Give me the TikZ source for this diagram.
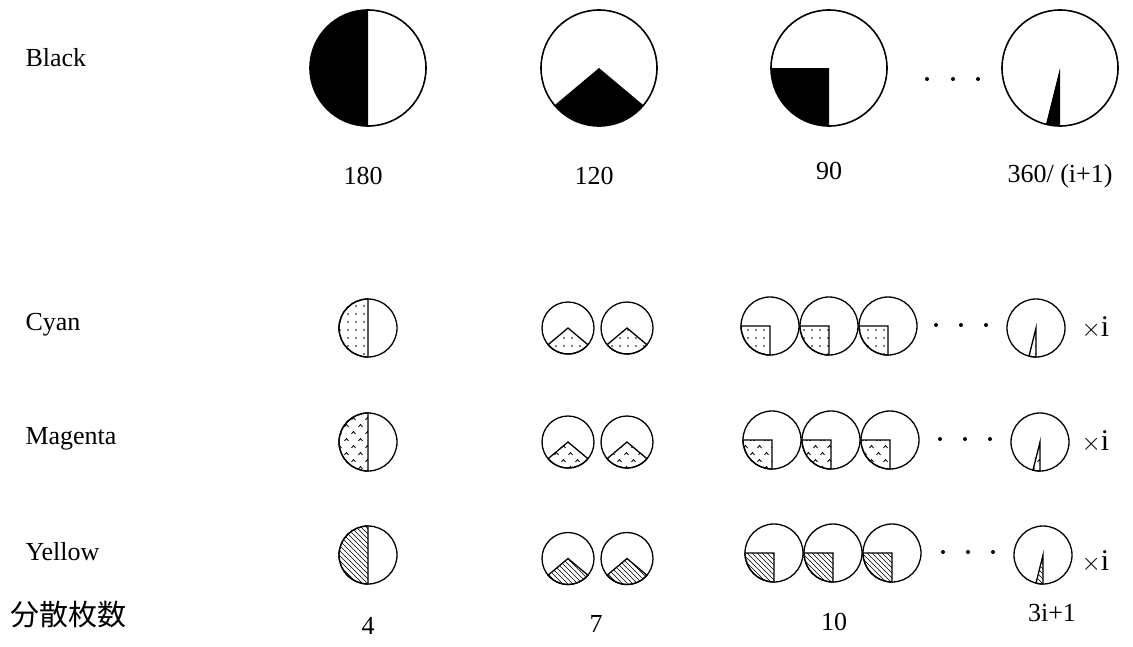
\documentclass[tikz,border=0pt]{standalone}
\usepackage{fontspec}
\setmainfont{Liberation Serif}
\newfontfamily\jpfont{Noto Sans CJK JP}
\usetikzlibrary{patterns}

\pgfdeclarepatternformonly{cyandots}{\pgfqpoint{-1pt}{-1pt}}{\pgfqpoint{9pt}{9pt}}{\pgfqpoint{8pt}{8pt}}{%
  \pgfpathcircle{\pgfqpoint{4pt}{4pt}}{0.9pt}\pgfusepath{fill}}
\pgfdeclarepatternformonly{magentacarets}{\pgfqpoint{-1pt}{-1pt}}{\pgfqpoint{15pt}{15pt}}{\pgfqpoint{14pt}{14pt}}{%
  \pgfsetlinewidth{0.8pt}%
  \pgfpathmoveto{\pgfqpoint{1.5pt}{2pt}}\pgfpathlineto{\pgfqpoint{3.5pt}{4.5pt}}\pgfpathlineto{\pgfqpoint{5.5pt}{2pt}}%
  \pgfpathmoveto{\pgfqpoint{8.5pt}{9pt}}\pgfpathlineto{\pgfqpoint{10.5pt}{11.5pt}}\pgfpathlineto{\pgfqpoint{12.5pt}{9pt}}%
  \pgfusepath{stroke}}
\pgfdeclarepatternformonly{yellowhatch}{\pgfqpoint{-1pt}{-1pt}}{\pgfqpoint{6pt}{6pt}}{\pgfqpoint{5pt}{5pt}}{%
  \pgfsetlinewidth{0.6pt}%
  \pgfpathmoveto{\pgfqpoint{-0.1pt}{5.1pt}}\pgfpathlineto{\pgfqpoint{5.1pt}{-0.1pt}}\pgfusepath{stroke}}

\begin{document}
\begin{tikzpicture}[x=1pt,y=-1pt,
    every node/.style={font=\fontsize{26}{31}\selectfont},
    bigpie/.style={line width=1.6pt},
    smallpie/.style={line width=1.3pt}]
    \useasboundingbox (0,0) rectangle (1133,646);
    % black row
    \coordinate (b1) at (368,68);
    \coordinate (b2) at (599,68);
    \coordinate (b3) at (829,68);
    \coordinate (b4) at (1060,68);
    \fill (b1) -- ++(90:58) arc[start angle=90,end angle=270,radius=58] -- cycle;
    \fill (b2) -- ++(40:58) arc[start angle=40,end angle=140,radius=58] -- cycle;
    \fill (b3) -- ++(90:58) arc[start angle=90,end angle=180,radius=58] -- cycle;
    \fill (b4) -- ++(90:58) arc[start angle=90,end angle=104,radius=58] -- cycle;
    \foreach \c in {b1,b2,b3,b4}
      \draw[bigpie] (\c) circle (58);
    \foreach \x in {927,953,978}
      \fill (\x,79) circle (2);
    \node[anchor=west] (blacklab) at (22,58) {Black};
    \node (deg1) at (363,176) {180};
    \node (deg2) at (594,176) {120};
    \node (deg3) at (829,171) {90};
    \node (deg4) at (1060,176) {360/ (i+1)};
    % colour rows
    \foreach \y/\pat/\lab/\tx/\lx/\ty in {328/cyandots/Cyan/770/1036/0,442/magentacarets/Magenta/772/1040/0,555/yellowhatch/Yellow/774/1043/7}{
      \node[anchor=west] (lab-\lab) at (22,\y-3) {\lab};
      \draw[smallpie,pattern=\pat] (368,\y) -- ++(90:29) arc[start angle=90,end angle=270,radius=29] -- cycle;
      \draw[smallpie] (368,\y) circle (29);
      \foreach \x in {568,627}{
        \draw[smallpie,pattern=\pat] (\x,\y+\ty/2) -- ++(40:26) arc[start angle=40,end angle=140,radius=26] -- cycle;
        \draw[smallpie] (\x,\y+\ty/2) circle (26);
      }
      \foreach \k in {0,1,2}{
        \draw[smallpie,pattern=\pat] (\tx+59*\k,\y-2) -- ++(90:29) arc[start angle=90,end angle=180,radius=29] -- cycle;
        \draw[smallpie] (\tx+59*\k,\y-2) circle (29);
      }
      \foreach \k in {0,1,2}
        \fill (\lx-100+25*\k,\y-3) circle (2);
      \draw[smallpie,pattern=\pat] (\lx,\y) -- ++(90:29) arc[start angle=90,end angle=104,radius=29] -- cycle;
      \draw[smallpie] (\lx,\y) circle (29);
      \node[anchor=west,font=\fontsize{30}{34}\selectfont] (times-\lab) at (1078,\y+\ty) {$\times$i};
    }
    % counts
    \node[anchor=west] (count) at (7,615) {\jpfont\fontsize{29}{34}\selectfont 分散枚数};
    \node (n1) at (368,626) {4};
    \node (n2) at (596,624) {7};
    \node (n3) at (834,622) {10};
    \node (n4) at (1052,613) {3i+1};
\end{tikzpicture}
\end{document}
